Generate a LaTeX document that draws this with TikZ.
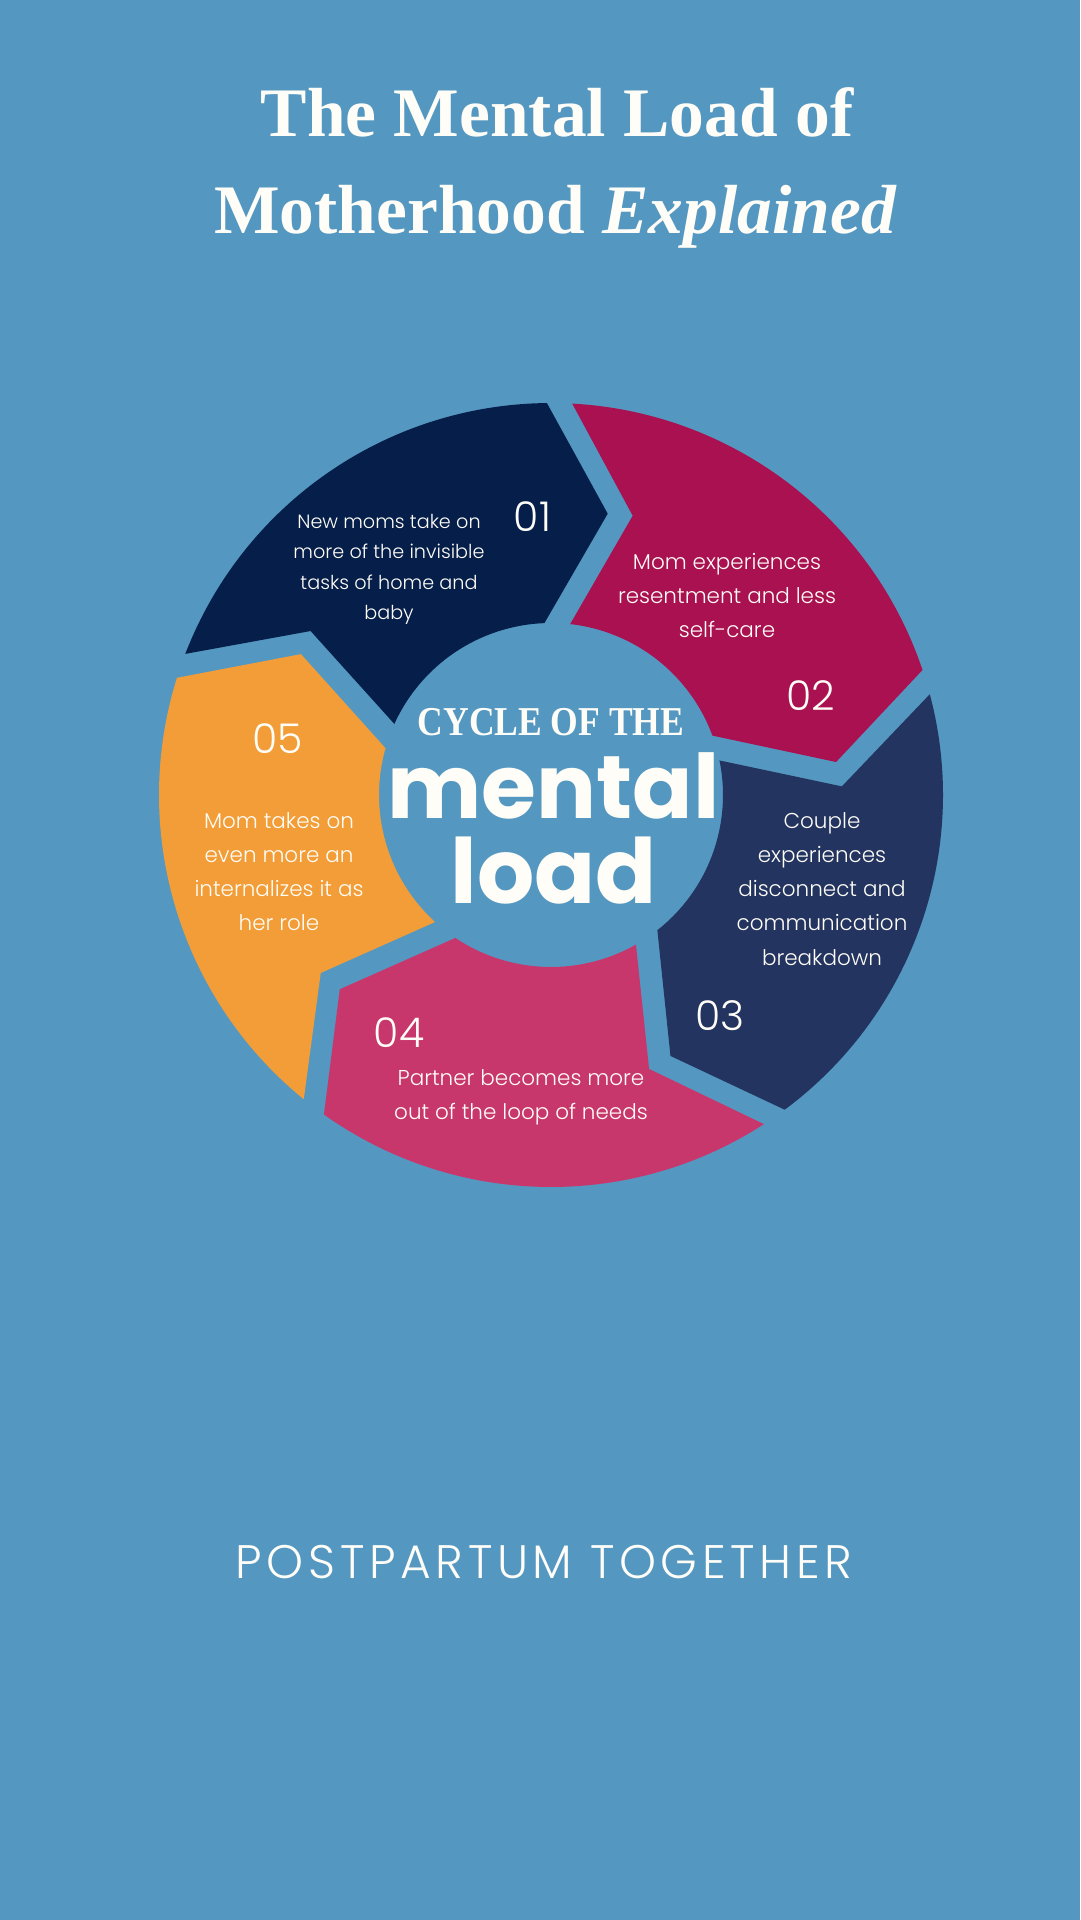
\documentclass[tikz,border=0pt]{standalone}
\usepackage{fontspec}
\newfontfamily\bodyf{Poppins Light}
\newfontfamily\numf{Poppins Light}
\newfontfamily\brandf{Poppins Light}[LetterSpace=10]
\newfontfamily\boldf{Poppins Bold}
\newfontfamily\titlef{Liberation Serif}
\definecolor{bgc}{HTML}{5498C1}
\definecolor{navy}{HTML}{061F4A}
\definecolor{magenta}{HTML}{A91151}
\definecolor{dblue}{HTML}{22345F}
\definecolor{pinkc}{HTML}{C8376C}
\definecolor{orangec}{HTML}{F29D38}
\definecolor{txt}{HTML}{FFFDF7}
\newcommand\stacklines[1]{\begin{tabular}[t]{@{}c@{}}#1\end{tabular}}
\begin{document}
\begin{tikzpicture}[x=1pt,y=-1pt,
  segtext/.style={text=txt, inner sep=0pt, anchor=base, font=\bodyf\fontsize{21.5}{34.3}\selectfont},
  segtextsmall/.style={segtext, font=\bodyf\fontsize{19.2}{30.5}\selectfont},
  numtext/.style={text=txt, inner sep=0pt, anchor=base, font=\numf\fontsize{41}{41}\selectfont},
  titletext/.style={text=txt, inner sep=0pt, anchor=base, font=\titlef\bfseries\fontsize{69.5}{70}\selectfont}]
\fill[bgc] (0,0) rectangle (1080,1920);
\useasboundingbox (0,0) rectangle (1080,1920);
% ring of arrows
\begin{scope}[shift={(551,795)}, yscale=-1]
  \foreach \h/\c in {90.6/navy, 18.6/magenta, -53.4/dblue, -125.4/pinkc, -197.4/orangec}{
    \pgfmathsetmacro\t{\h+68.3}
    \pgfmathsetmacro\tn{\t-13.2}
    \pgfmathsetmacro\ti{\t-3.3}
    \pgfmathsetmacro\hi{\h+1.6}
    \pgfmathsetmacro\hp{\h-12}
    \fill[\c] (\t:392) -- (\tn:291) -- (\ti:172)
      arc[start angle=\ti, end angle=\hi, radius=172]
      -- (\hp:287) -- (\h:392)
      arc[start angle=\h, end angle=\t, radius=392] -- cycle;
  }
\end{scope}
% title
\node[titletext] (title1) at (557,136) {The Mental Load of};
\node[titletext] (title2) at (555.5,233) {Motherhood \textit{Explained}};
% centre
\node[text=txt, inner sep=0pt, anchor=base, font=\titlef\bfseries\fontsize{41}{41}\selectfont] (cycle) at (551,735) {\scalebox{0.867}[1]{CYCLE OF THE}};
\node[text=txt, inner sep=0pt, anchor=base, font=\boldf\fontsize{89}{89}\selectfont] (mental) at (553.5,818) {mental};
\node[text=txt, inner sep=0pt, anchor=base, font=\boldf\fontsize{90}{90}\selectfont] (load) at (553.5,903) {load};
% segment texts
\node[segtextsmall] (txt1) at (389,528) {\stacklines{New moms take on\\more of the invisible\\tasks of home and\\baby}};
\node[numtext] (num1) at (532.5,531) {01};
\node[segtext] (txt2) at (727,569) {\stacklines{Mom experiences\\resentment and less\\self-care}};
\node[numtext] (num2) at (811,710) {02};
\node[segtext] (txt3) at (822,828) {\stacklines{Couple\\experiences\\disconnect and\\communication\\breakdown}};
\node[numtext] (num3) at (720,1030) {03};
\node[segtext] (txt4) at (521,1085) {\stacklines{Partner becomes more\\out of the loop of needs}};
\node[numtext] (num4) at (399,1047) {04};
\node[segtext] (txt5) at (279,828) {\stacklines{Mom takes on\\even more an\\internalizes it as\\her role}};
\node[numtext] (num5) at (278,753) {05};
% footer
\node[text=txt, inner sep=0pt, anchor=base, font=\brandf\fontsize{47}{47}\selectfont] (brand) at (544,1578) {POSTPARTUM TOGETHER};
\end{tikzpicture}
\end{document}
